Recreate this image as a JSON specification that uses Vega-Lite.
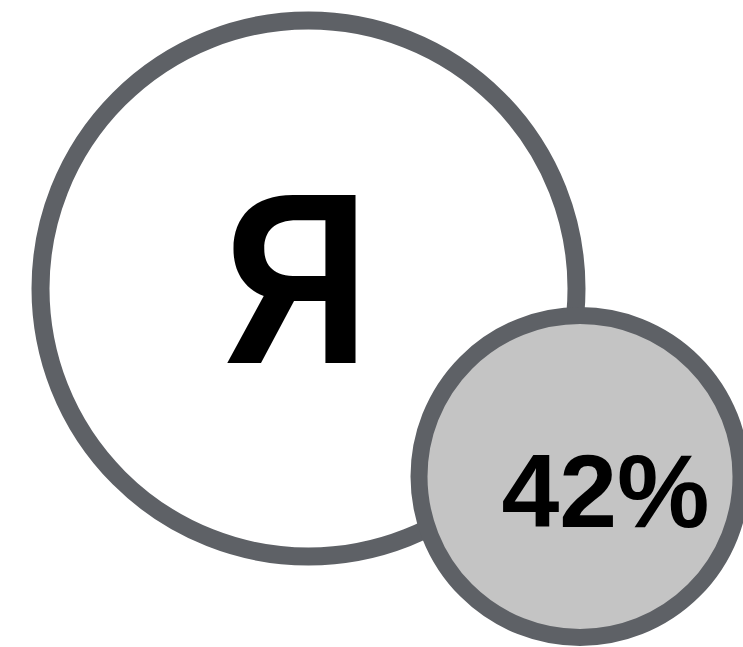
{
  "$schema": "https://vega.github.io/schema/vega-lite/v6.json",
  "width": 743,
  "height": 647,
  "padding": 0,
  "autosize": {"type": "none"},
  "background": "white",
  "config": {"view": {"stroke": null}},
  "layer": [
    {
      "data": {"values": [{"name": "Я", "x": 308.5, "y": 288.5}]},
      "mark": {"type": "point", "shape": "circle", "filled": false, "fill": "white", "fillOpacity": 1, "stroke": "#5e6166", "strokeWidth": 18, "strokeOpacity": 1, "size": 287296, "opacity": 1},
      "encoding": {
        "x": {"field": "x", "type": "quantitative", "scale": {"domain": [0, 743], "nice": false, "zero": false}, "axis": null},
        "y": {"field": "y", "type": "quantitative", "scale": {"domain": [0, 647], "nice": false, "zero": false, "reverse": true}, "axis": null}
      }
    },
    {
      "data": {"values": [{"name": "Я", "x": 297, "y": 363}]},
      "mark": {"type": "text", "text": "Я", "fontSize": 231, "fontWeight": 600, "font": "Inter", "align": "center", "baseline": "alphabetic", "color": "black"},
      "encoding": {
        "x": {"field": "x", "type": "quantitative", "scale": {"domain": [0, 743], "nice": false, "zero": false}, "axis": null},
        "y": {"field": "y", "type": "quantitative", "scale": {"domain": [0, 647], "nice": false, "zero": false, "reverse": true}, "axis": null}
      }
    },
    {
      "data": {"values": [{"name": "share", "x": 580, "y": 476.5}]},
      "mark": {"type": "point", "shape": "circle", "filled": false, "fill": "#c4c4c4", "fillOpacity": 1, "stroke": "#5e6166", "strokeWidth": 17, "strokeOpacity": 1, "size": 103684, "opacity": 1},
      "encoding": {
        "x": {"field": "x", "type": "quantitative", "scale": {"domain": [0, 743], "nice": false, "zero": false}, "axis": null},
        "y": {"field": "y", "type": "quantitative", "scale": {"domain": [0, 647], "nice": false, "zero": false, "reverse": true}, "axis": null}
      }
    },
    {
      "data": {"values": [{"label": "42%", "x": 605.5, "y": 527}]},
      "mark": {"type": "text", "fontSize": 104, "fontWeight": "bold", "font": "Liberation Sans", "align": "center", "baseline": "alphabetic", "color": "black"},
      "encoding": {
        "text": {"field": "label"},
        "x": {"field": "x", "type": "quantitative", "scale": {"domain": [0, 743], "nice": false, "zero": false}, "axis": null},
        "y": {"field": "y", "type": "quantitative", "scale": {"domain": [0, 647], "nice": false, "zero": false, "reverse": true}, "axis": null}
      }
    }
  ]
}
